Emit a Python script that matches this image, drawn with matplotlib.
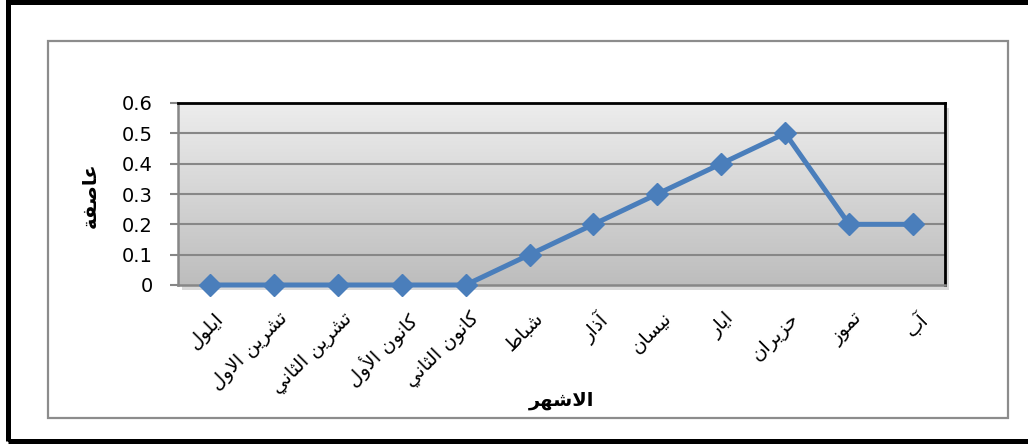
import numpy as np
import matplotlib
matplotlib.use("Agg")
import matplotlib.pyplot as plt
from matplotlib.patches import Rectangle

# ---------------- data ----------------
months = ["ايلول", "تشرين الاول", "تشرين الثاني", "كانون الأول", "كانون الثاني",
          "شباط", "آذار", "نيسان", "ايار", "حزيران", "تموز", "آب"]
values = [0, 0, 0, 0, 0, 0.1, 0.2, 0.3, 0.4, 0.5, 0.2, 0.2]
yticks = [0, 0.1, 0.2, 0.3, 0.4, 0.5, 0.6]
ytick_labels = ["0", "0.1", "0.2", "0.3", "0.4", "0.5", "0.6"]
xlabel = "الاشهر"
ylabel = "عاصفة"

# ---------------- minimal Arabic shaping ----------------
FORMS = {
    "ا": (0xFE8D, 0xFE8E, None, None),
    "أ": (0xFE83, 0xFE84, None, None),
    "إ": (0xFE87, 0xFE88, None, None),
    "آ": (0xFE81, 0xFE82, None, None),
    "ب": (0xFE8F, 0xFE90, 0xFE91, 0xFE92),
    "ة": (0xFE93, 0xFE94, None, None),
    "ت": (0xFE95, 0xFE96, 0xFE97, 0xFE98),
    "ث": (0xFE99, 0xFE9A, 0xFE9B, 0xFE9C),
    "ح": (0xFEA1, 0xFEA2, 0xFEA3, 0xFEA4),
    "د": (0xFEA9, 0xFEAA, None, None),
    "ذ": (0xFEAB, 0xFEAC, None, None),
    "ر": (0xFEAD, 0xFEAE, None, None),
    "ز": (0xFEAF, 0xFEB0, None, None),
    "س": (0xFEB1, 0xFEB2, 0xFEB3, 0xFEB4),
    "ش": (0xFEB5, 0xFEB6, 0xFEB7, 0xFEB8),
    "ص": (0xFEB9, 0xFEBA, 0xFEBB, 0xFEBC),
    "ط": (0xFEC1, 0xFEC2, 0xFEC3, 0xFEC4),
    "ع": (0xFEC9, 0xFECA, 0xFECB, 0xFECC),
    "ف": (0xFED1, 0xFED2, 0xFED3, 0xFED4),
    "ك": (0xFED9, 0xFEDA, 0xFEDB, 0xFEDC),
    "ل": (0xFEDD, 0xFEDE, 0xFEDF, 0xFEE0),
    "م": (0xFEE1, 0xFEE2, 0xFEE3, 0xFEE4),
    "ن": (0xFEE5, 0xFEE6, 0xFEE7, 0xFEE8),
    "ه": (0xFEE9, 0xFEEA, 0xFEEB, 0xFEEC),
    "و": (0xFEED, 0xFEEE, None, None),
    "ي": (0xFEF1, 0xFEF2, 0xFEF3, 0xFEF4),
    "ى": (0xFEEF, 0xFEF0, None, None),
    "\uFEFB": (0xFEFB, 0xFEFC, None, None),
    "\uFEF7": (0xFEF7, 0xFEF8, None, None),
    "\uFEF5": (0xFEF5, 0xFEF6, None, None),
    "\uFEF9": (0xFEF9, 0xFEFA, None, None),
}
LIGS = {"ا": "\uFEFB", "أ": "\uFEF7", "آ": "\uFEF5", "إ": "\uFEF9"}


def shape(text):
    chars = []
    i = 0
    while i < len(text):
        c = text[i]
        if c == "ل" and i + 1 < len(text) and text[i + 1] in LIGS:
            chars.append(LIGS[text[i + 1]])
            i += 2
        else:
            chars.append(c)
            i += 1
    out = []
    for k, c in enumerate(chars):
        if c not in FORMS:
            out.append(c)
            continue
        iso, fin, ini, med = FORMS[c]
        prev = chars[k - 1] if k > 0 else None
        nxt = chars[k + 1] if k + 1 < len(chars) else None
        jp = prev is not None and prev in FORMS and FORMS[prev][2] is not None
        jn = ini is not None and nxt is not None and nxt in FORMS
        if jp and jn:
            cp = med
        elif jp:
            cp = fin
        elif jn:
            cp = ini
        else:
            cp = iso
        out.append(chr(cp))
    return "".join(out)[::-1]


# ---------------- figure ----------------
W, H = 1028, 445
fig = plt.figure(figsize=(W / 100, H / 100), dpi=100)
fig.patch.set_facecolor("white")

# outer black frame (no right edge visible) and inner grey chart frame
fig.add_artist(Rectangle((7.5 / W, 1 - 441 / H), 1.2, (441 - 2) / H,
                         transform=fig.transFigure, fill=False,
                         edgecolor="black", linewidth=3.6))
fig.add_artist(Rectangle((48 / W, 1 - 418 / H), (1008 - 48) / W, (418 - 41) / H,
                         transform=fig.transFigure, fill=False,
                         edgecolor="#8C8C8C", linewidth=1.6))

left, right, top, bottom = 178, 945, 103, 285
ax = fig.add_axes([left / W, 1 - bottom / H, (right - left) / W, (bottom - top) / H])

x = np.arange(len(months))

# shadow of plot area
fig.add_artist(Rectangle(((left + 4) / W, 1 - (bottom + 5) / H), (right - left) / W,
                         (bottom - top) / H, transform=fig.transFigure,
                         facecolor="#DADADA", edgecolor="none", zorder=0))

# gradient background (light at top, darker at bottom)
grad = np.linspace(0, 1, 256).reshape(-1, 1)
cmap = matplotlib.colors.LinearSegmentedColormap.from_list("g", ["#EDEDED", "#BDBDBD"])
ax.imshow(grad, extent=[-0.5, len(months) - 0.5, 0, 0.6], aspect="auto",
          cmap=cmap, zorder=0, origin="upper")
ax.set_xlim(-0.5, len(months) - 0.5)
ax.set_ylim(0, 0.6)

for yv in yticks[1:-1]:
    ax.axhline(yv, color="#878787", linewidth=1.5, zorder=1)

ax.plot(x, values, color="#4A7EBB", linewidth=3.6, marker="D", markersize=11,
        markerfacecolor="#4A7EBB", markeredgecolor="#4A7EBB", zorder=3, clip_on=False)

ax.set_yticks(yticks)
ax.set_yticklabels(ytick_labels, fontfamily="DejaVu Sans", fontsize=14)
ax.tick_params(axis="y", length=6, width=1.5, color="#878787", pad=12)
ax.set_xticks(x)
ax.set_xticklabels([shape(m) for m in months], rotation=45, ha="right", va="top",
                   rotation_mode="anchor", fontfamily="DejaVu Sans", fontsize=14)
ax.tick_params(axis="x", length=0, pad=17)
for lbl in ax.get_xticklabels():
    lbl.set_transform(lbl.get_transform() + matplotlib.transforms.ScaledTranslation(
        4 / 100, 0, fig.dpi_scale_trans))

ax.spines["top"].set_color("black")
ax.spines["top"].set_linewidth(2)
ax.spines["right"].set_color("black")
ax.spines["right"].set_linewidth(2)
ax.spines["left"].set_color("#878787")
ax.spines["left"].set_linewidth(1.8)
ax.spines["bottom"].set_color("#878787")
ax.spines["bottom"].set_linewidth(1.8)

fig.text(90 / W, 1 - 195 / H, shape(ylabel), rotation=90, ha="center", va="center",
         fontfamily="DejaVu Sans", fontweight="bold", fontsize=14)
fig.text(562 / W, 1 - 400 / H, shape(xlabel), ha="center", va="center",
         fontfamily="DejaVu Sans", fontweight="bold", fontsize=14)

fig.savefig("out.png", dpi=100)
